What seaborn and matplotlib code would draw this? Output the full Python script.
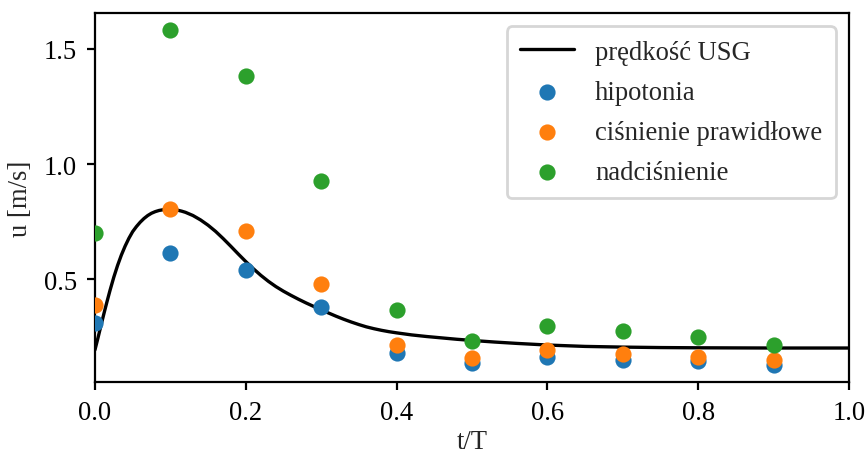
import matplotlib
matplotlib.use("Agg")
import matplotlib.pyplot as plt
import seaborn as sns
import pandas as pd

# Ultrasound (USG) reference velocity curve over one cardiac cycle
t_usg = [0.000, 0.004, 0.008, 0.012, 0.016, 0.020, 0.025, 0.030, 0.035,
         0.040, 0.045, 0.050, 0.055, 0.060, 0.065, 0.070, 0.075, 0.080,
         0.085, 0.090, 0.095, 0.100, 0.105, 0.110, 0.115, 0.120, 0.130,
         0.140, 0.150, 0.160, 0.170, 0.180, 0.190, 0.200, 0.210, 0.220,
         0.230, 0.240, 0.250, 0.260, 0.270, 0.280, 0.290, 0.300, 0.310,
         0.320, 0.330, 0.340, 0.350, 0.360, 0.370, 0.380, 0.390, 0.400,
         0.420, 0.440, 0.460, 0.480, 0.500, 0.530, 0.560, 0.600, 0.650,
         0.700, 0.750, 0.800, 0.900, 1.000]
u_usg = [0.192, 0.244, 0.298, 0.351, 0.402, 0.451, 0.508, 0.559, 0.604,
         0.643, 0.677, 0.706, 0.728, 0.747, 0.763, 0.776, 0.786, 0.793,
         0.798, 0.801, 0.803, 0.803, 0.802, 0.799, 0.795, 0.790, 0.776,
         0.757, 0.734, 0.707, 0.676, 0.643, 0.609, 0.576, 0.545, 0.516,
         0.490, 0.467, 0.447, 0.429, 0.412, 0.396, 0.381, 0.366, 0.352,
         0.338, 0.325, 0.313, 0.302, 0.292, 0.284, 0.277, 0.271, 0.266,
         0.257, 0.250, 0.244, 0.238, 0.233, 0.226, 0.220, 0.213, 0.207,
         0.204, 0.202, 0.201, 0.200, 0.200]

# Simulated velocities for three blood-pressure cases
t_sim = [0.0, 0.1, 0.2, 0.3, 0.4, 0.5, 0.6, 0.7, 0.8, 0.9]
u_hipotonia = [0.309, 0.611, 0.540, 0.378, 0.178, 0.135, 0.161, 0.149, 0.142, 0.125]
u_prawidlowe = [0.385, 0.806, 0.707, 0.480, 0.214, 0.157, 0.190, 0.175, 0.161, 0.146]
u_nadcisnienie = [0.700, 1.583, 1.384, 0.926, 0.364, 0.232, 0.297, 0.275, 0.246, 0.214]

labels = ["hipotonia", "ciśnienie prawidłowe", "nadciśnienie"]
colors = ["#1f77b4", "#ff7f0e", "#2ca02c"]

sns.set_theme(style="ticks")
plt.rcParams["font.family"] = ["Liberation Serif", "DejaVu Serif"]
plt.rcParams["font.size"] = 9.6
plt.rcParams["axes.labelsize"] = 9.6
plt.rcParams["xtick.labelsize"] = 9.6
plt.rcParams["ytick.labelsize"] = 9.6
plt.rcParams["legend.fontsize"] = 9.6
plt.rcParams["axes.edgecolor"] = "black"
plt.rcParams["axes.linewidth"] = 0.8
plt.rcParams["xtick.color"] = "black"
plt.rcParams["ytick.color"] = "black"
plt.rcParams["xtick.major.size"] = 3.0
plt.rcParams["ytick.major.size"] = 3.0
plt.rcParams["xtick.major.width"] = 0.8
plt.rcParams["ytick.major.width"] = 0.8

fig, ax = plt.subplots(figsize=(4.34, 2.28), dpi=200)
fig.subplots_adjust(left=0.1094, right=0.978, bottom=0.160, top=0.969)

sns.lineplot(x=t_usg, y=u_usg, ax=ax, color="black", linewidth=1.2,
             label="prędkość USG")

series = [u_hipotonia, u_prawidlowe, u_nadcisnienie]
for vals, lab, col in zip(series, labels, colors):
    df = pd.DataFrame({"t": t_sim, "u": vals})
    sns.scatterplot(data=df, x="t", y="u", ax=ax, color=col, s=34,
                    linewidth=0, label=lab, zorder=3)

ax.set_xlim(0, 1)
ax.set_xticks([0.0, 0.2, 0.4, 0.6, 0.8, 1.0])
ax.set_yticks([0.5, 1.0, 1.5])
ax.set_xlabel("t/T", labelpad=1.5)
ax.set_ylabel("u [m/s]")
for side in ["top", "right", "left", "bottom"]:
    ax.spines[side].set_visible(True)
    ax.spines[side].set_color("black")

ax.legend(loc="upper right", frameon=True, fancybox=True, framealpha=0.8,
          edgecolor="#cccccc", labelspacing=0.56, borderpad=0.5)

fig.savefig("out.png", dpi=200)
